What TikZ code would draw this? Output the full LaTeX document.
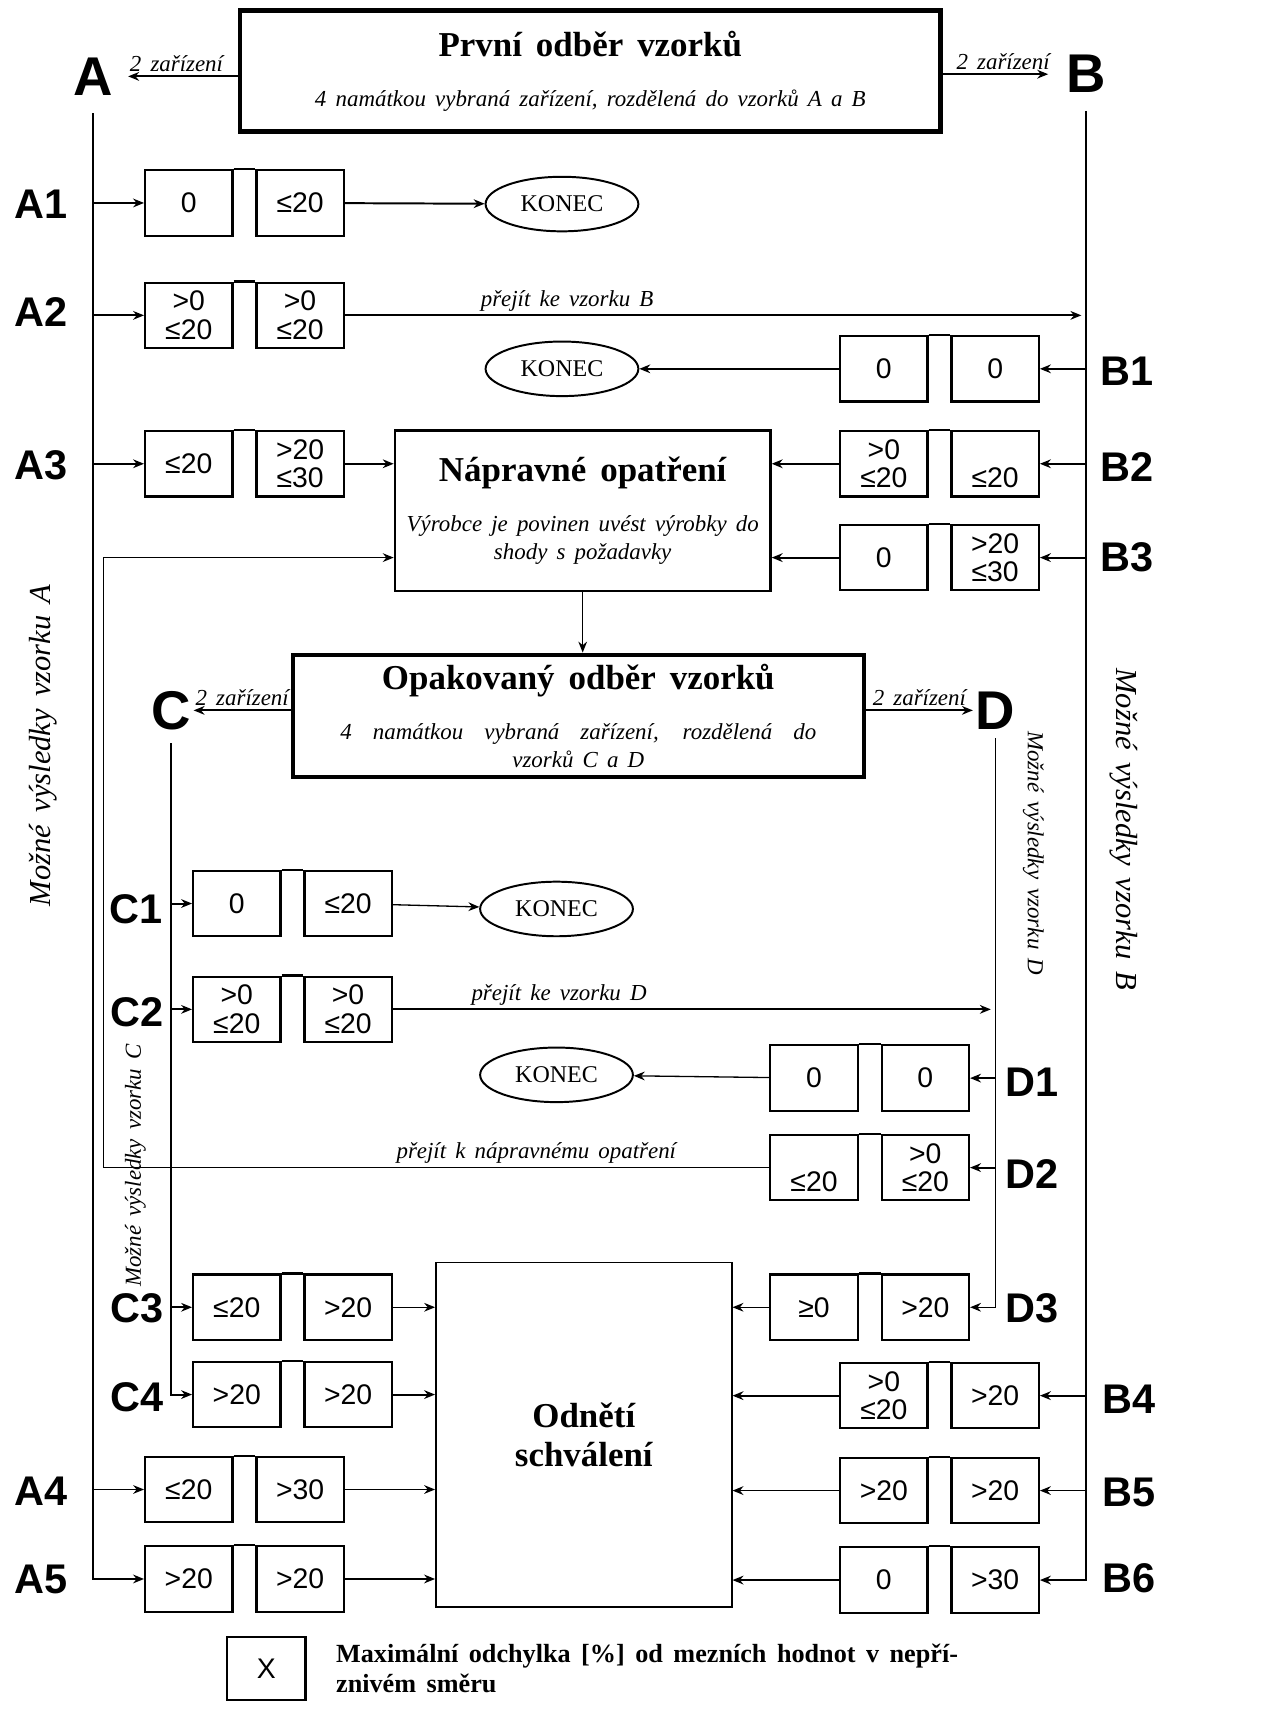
\documentclass[tikz,border=0pt]{standalone}
\usepackage{fontspec}
\setmainfont[WordSpace=1.6]{Liberation Serif}
\setsansfont{Liberation Sans}
\usetikzlibrary{shapes.geometric, positioning, arrows.meta}

\newcommand{\stagetitle}[1]{{\upshape\bfseries\fontsize{16}{19}\selectfont #1}}

\begin{document}
\begin{tikzpicture}[
        x=0.5pt, y=-0.5pt,
        node distance=10pt,
        % Define styles for the nodes
        stage/.style={rectangle, draw=black, line width=2pt, align=center, inner sep=3pt, font=\itshape\fontsize{10.5}{13}\selectfont},
        val/.style={rectangle, draw=black, line width=1pt, minimum width=40pt, minimum height=30pt, inner sep=1pt, align=center, font=\sffamily\fontsize{13}{13}\selectfont},
        konec/.style={ellipse, draw=black, line width=0.9pt, minimum width=70pt, minimum height=25pt, inner sep=0pt, font=\fontsize{11}{13}\selectfont},
        sample/.style={font=\sffamily\bfseries\fontsize{25}{25}\selectfont, inner sep=1pt},
        tag/.style={font=\sffamily\bfseries\fontsize{19}{19}\selectfont, inner sep=1pt},
        note/.style={font=\itshape\fontsize{10.5}{12}\selectfont, inner sep=1.5pt},
        side/.style={font=\itshape\fontsize{14}{16}\selectfont},
        myarrow/.style={-{Stealth[length=5pt, width=4pt]}, line width=0.9pt},
        thinarrow/.style={myarrow, line width=0.6pt},
        pairtop/.style={line width=1pt}
    ]
    \useasboundingbox (0,0) rectangle (1173,1568);

    % --- Sampling stages ---
    \node[stage, minimum width=321pt, minimum height=55.5pt] (first) at (541,65) {\stagetitle{První odběr vzorků}\\[10pt]4 namátkou vybraná zařízení, rozdělená do vzorků A a B};
    \node[stage, line width=1.2pt, minimum width=172pt, minimum height=73.5pt] (fix) at (534,468) {\stagetitle{Nápravné opatření}\\[10pt]Výrobce je povinen uvést výrobky do\\shody s požadavky};
    \node[stage, minimum width=261.5pt, minimum height=56pt] (repeat) at (530,656) {\stagetitle{Opakovaný odběr vzorků}\\[10pt]\makebox[218pt][s]{4 namátkou vybraná zařízení, rozdělená do}\\vzorků C a D};
    \node[stage, line width=0.8pt, minimum width=135.5pt, minimum height=158pt, font=\bfseries\fontsize{16}{18}\selectfont] (withdraw) at (535,1315) {Odnětí\\schválení};

    % --- Samples ---
    \node[sample] (A) at (85,70) {A};
    \node[sample] (B) at (995,68) {B};
    \node[sample] (C) at (157,651) {C};
    \node[sample] (D) at (912,651) {D};

    % --- Row tags ---
    \node[tag] (ta1) at (38,187) {A1};
    \node[tag] (ta2) at (38,286) {A2};
    \node[tag] (ta3) at (38,426) {A3};
    \node[tag] (ta4) at (38,1367) {A4};
    \node[tag] (ta5) at (38,1447) {A5};
    \node[tag] (tb1) at (1033,340) {B1};
    \node[tag] (tb2) at (1033,428) {B2};
    \node[tag] (tb3) at (1033,511) {B3};
    \node[tag] (tb4) at (1035,1282) {B4};
    \node[tag] (tb5) at (1035,1368) {B5};
    \node[tag] (tb6) at (1035,1446) {B6};
    \node[tag] (tc1) at (125,833) {C1};
    \node[tag] (tc2) at (126,928) {C2};
    \node[tag] (tc3) at (126,1199) {C3};
    \node[tag] (tc4) at (126,1280) {C4};
    \node[tag] (td1) at (946,992) {D1};
    \node[tag] (td2) at (946,1076) {D2};
    \node[tag] (td3) at (946,1199) {D3};

    % --- Side captions ---
    \node[side, rotate=90] (sideA) at (40,683) {Možné výsledky vzorku A};
    \node[side, rotate=-90] (sideB) at (1030,760) {Možné výsledky vzorku B};
    \node[note, rotate=90] (sideC) at (124,1068) {Možné výsledky vzorku C};
    \node[note, rotate=-90] (sideD) at (947,782) {Možné výsledky vzorku D};

    % --- Results of sample A ---
    \node[val] (a1l) at (173,186) {0};
    \node[val, right=of a1l] (a1r) {≤20};
    \node[val] (a2l) at (173,289) {>0\\≤20};
    \node[val, right=of a2l] (a2r) {>0\\≤20};
    \node[val] (a3l) at (173,425) {≤20};
    \node[val, right=of a3l] (a3r) {>20\\≤30};
    \node[val] (a4l) at (173,1365) {≤20};
    \node[val, right=of a4l] (a4r) {>30};
    \node[val] (a5l) at (173,1447) {>20};
    \node[val, right=of a5l] (a5r) {>20};

    % --- Results of sample B ---
    \node[val] (b1l) at (810,338) {0};
    \node[val, right=of b1l] (b1r) {0};
    \node[val] (b2l) at (810,425) {>0\\≤20};
    \node[val, right=of b2l] (b2r) {\phantom{>0}\\≤20};
    \node[val] (b3l) at (810,511) {0};
    \node[val, right=of b3l] (b3r) {>20\\≤30};
    \node[val] (b4l) at (810,1279) {>0\\≤20};
    \node[val, right=of b4l] (b4r) {>20};
    \node[val] (b5l) at (810,1366) {>20};
    \node[val, right=of b5l] (b5r) {>20};
    \node[val] (b6l) at (810,1448) {0};
    \node[val, right=of b6l] (b6r) {>30};

    % --- Results of sample C ---
    \node[val] (c1l) at (217,828) {0};
    \node[val, right=of c1l] (c1r) {≤20};
    \node[val] (c2l) at (217,925) {>0\\≤20};
    \node[val, right=of c2l] (c2r) {>0\\≤20};
    \node[val] (c3l) at (217,1198) {≤20};
    \node[val, right=of c3l] (c3r) {>20};
    \node[val] (c4l) at (217,1278) {>20};
    \node[val, right=of c4l] (c4r) {>20};

    % --- Results of sample D ---
    \node[val] (d1l) at (746,988) {0};
    \node[val, right=of d1l] (d1r) {0};
    \node[val] (d2l) at (746,1070) {\phantom{>0}\\≤20};
    \node[val, right=of d2l] (d2r) {>0\\≤20};
    \node[val] (d3l) at (746,1198) {≥0};
    \node[val, right=of d3l] (d3r) {>20};

    % --- End states ---
    \node[konec] (end1) at (515,187) {KONEC};
    \node[konec] (end2) at (515,338) {KONEC};
    \node[konec] (end3) at (510,833) {KONEC};
    \node[konec] (end4) at (510,985) {KONEC};

    % --- Legend ---
    \node[val, minimum width=36pt, minimum height=29pt] (key) at (244,1529) {X};
    \node[align=left, font=\bfseries\fontsize{12}{14}\selectfont, right=10pt of key] (keytext) {Maximální odchylka [\%] od mezních hodnot v nepří-\\znivém směru};

    % --- Pair tops ---
    \draw[pairtop] (a1l.north east) -- (a1r.north west);
    \draw[pairtop] (a2l.north east) -- (a2r.north west);
    \draw[pairtop] (a3l.north east) -- (a3r.north west);
    \draw[pairtop] (a4l.north east) -- (a4r.north west);
    \draw[pairtop] (a5l.north east) -- (a5r.north west);
    \draw[pairtop] (b1l.north east) -- (b1r.north west);
    \draw[pairtop] (b2l.north east) -- (b2r.north west);
    \draw[pairtop] (b3l.north east) -- (b3r.north west);
    \draw[pairtop] (b4l.north east) -- (b4r.north west);
    \draw[pairtop] (b5l.north east) -- (b5r.north west);
    \draw[pairtop] (b6l.north east) -- (b6r.north west);
    \draw[pairtop] (c1l.north east) -- (c1r.north west);
    \draw[pairtop] (c2l.north east) -- (c2r.north west);
    \draw[pairtop] (c3l.north east) -- (c3r.north west);
    \draw[pairtop] (c4l.north east) -- (c4r.north west);
    \draw[pairtop] (d1l.north east) -- (d1r.north west);
    \draw[pairtop] (d2l.north east) -- (d2r.north west);
    \draw[pairtop] (d3l.north east) -- (d3r.north west);

    % --- Edges ---
    \draw[myarrow, shorten >=6pt] (first.west |- A) -- node[note, above] {2 zařízení} (A.east);
    \draw[myarrow, shorten >=7pt] (first.east |- B) -- node[note, above] {2 zařízení} (B.west);
    \draw[myarrow] (repeat.west |- C) -- node[note, above] {2 zařízení} (C.east);
    \draw[myarrow] (repeat.east |- D) -- node[note, above] {2 zařízení} (D.west);

    % 1. Sample lines
    \draw[myarrow, line width=1.1pt, shorten <=7pt] (A.south) |- (a5l.west);
    \draw[myarrow] (a1l.west -| A) -- (a1l.west);
    \draw[myarrow] (a2l.west -| A) -- (a2l.west);
    \draw[myarrow] (a3l.west -| A) -- (a3l.west);
    \draw[thinarrow] (a4l.west -| A) -- (a4l.west);
    \draw[myarrow, line width=1.1pt, shorten <=7pt] (B.south) |- (b6r.east);
    \draw[myarrow] (b1r.east -| B) -- (b1r.east);
    \draw[myarrow] (b2r.east -| B) -- (b2r.east);
    \draw[myarrow] (b3r.east -| B) -- (b3r.east);
    \draw[myarrow] (b4r.east -| B) -- (b4r.east);
    \draw[thinarrow] (b5r.east -| B) -- (b5r.east);
    \draw[myarrow, shorten <=5pt] (C.south) |- (c4l.west);
    \draw[myarrow] (c1l.west -| C) -- (c1l.west);
    \draw[myarrow] (c2l.west -| C) -- (c2l.west);
    \draw[myarrow] (c3l.west -| C) -- (c3l.west);
    \draw[thinarrow, shorten <=3pt] (D.south) |- (d3r.east);
    \draw[myarrow] (d1r.east -| D) -- (d1r.east);
    \draw[myarrow] (d2r.east -| D) -- (d2r.east);

    % 2. Outcomes of first sampling
    \draw[myarrow] (a1r) -- (end1);
    \draw[myarrow, shorten >=2pt] (a2r) -- node[note, above, pos=0.3] {přejít ke vzorku B} (a2r -| B);
    \draw[myarrow] (a3r) -- (fix.west |- a3r);
    \draw[thinarrow] (a4r) -- (withdraw.west |- a4r);
    \draw[myarrow] (a5r) -- (withdraw.west |- a5r);
    \draw[myarrow] (b1l) -- (end2);
    \draw[myarrow] (b2l) -- (fix.east |- b2l);
    \draw[myarrow] (b3l) -- (fix.east |- b3l);
    \draw[myarrow] (b4l) -- (withdraw.east |- b4l);
    \draw[thinarrow] (b5l) -- (withdraw.east |- b5l);
    \draw[myarrow] (b6l) -- (withdraw.east |- b6l);
    \draw[thinarrow] (fix.south) -- (fix.south |- repeat.north);

    % 3. Outcomes of repeated sampling
    \draw[thinarrow] (c1r) -- (end3);
    \draw[myarrow, shorten >=2pt] (c2r) -- node[note, above, pos=0.276] {přejít ke vzorku D} (c2r -| D);
    \draw[thinarrow] (c3r) -- (withdraw.west |- c3r);
    \draw[myarrow] (c4r) -- (withdraw.west |- c4r);
    \draw[thinarrow] (d1l) -- (end4);
    \draw[thinarrow] (d3l) -- (withdraw.east |- d3l);
    \coordinate (back) at (95,511);
    \draw[thinarrow] (d2l.west) -| node[note, above, pos=0.175] {přejít k nápravnému opatření} (back) -- (fix.west |- back);

\end{tikzpicture}
\end{document}
